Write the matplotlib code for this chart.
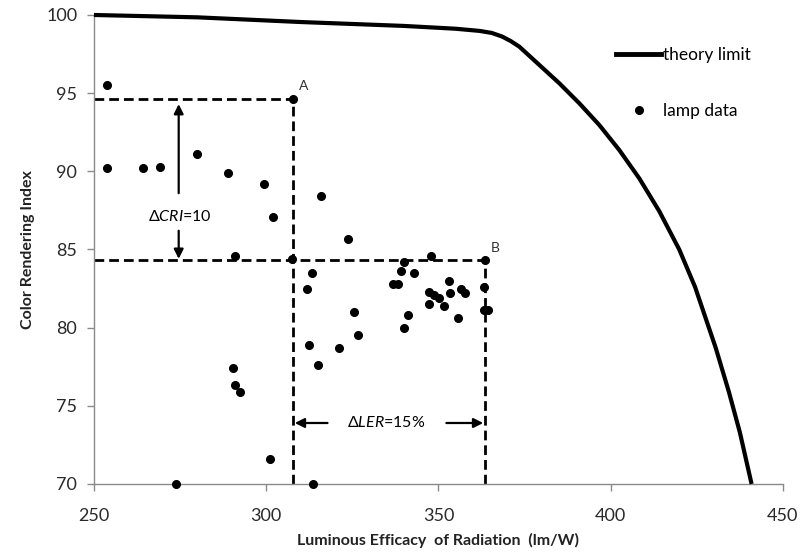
import matplotlib
matplotlib.use("Agg")
import matplotlib.pyplot as plt
from matplotlib.lines import Line2D

plt.rcParams['font.family'] = ['Lato', 'DejaVu Sans']
plt.rcParams['mathtext.fontset'] = 'custom'
plt.rcParams['mathtext.rm'] = 'Lato'
plt.rcParams['mathtext.it'] = 'Lato:italic'
plt.rcParams['mathtext.bf'] = 'Lato:bold'

# theory limit curve
theory_ler = [250, 280, 310, 340, 355, 362, 365.5, 368.5, 371, 373.5, 379.3, 385.1,
              390.9, 396.7, 402.5, 408.3, 414.1, 419.9, 424.5, 430.5, 434.3, 437.5,
              440.9]
theory_cri = [100, 99.85, 99.55, 99.3, 99.12, 98.98, 98.85, 98.62, 98.33, 97.97, 96.8,
              95.63, 94.35, 92.96, 91.36, 89.55, 87.45, 85.0, 82.6, 78.7, 75.9, 73.3,
              70.0]

# lamp data
lamp_ler = [253.9, 253.9, 264.1, 269.2, 279.9, 289.0, 299.4, 302.0, 291.0, 307.8,
            307.6, 290.4, 291.0, 292.3, 301.1, 273.9, 315.9, 323.8, 347.7, 363.5,
            313.2, 311.8, 336.8, 338.2, 339.2, 340.1, 342.9, 353.0, 347.2, 348.8,
            350.3, 347.4, 351.7, 353.4, 356.6, 357.7, 355.8, 363.1, 363.1, 364.5,
            341.1, 340.1, 325.4, 326.6, 312.4, 321.1, 315.1, 313.6]
lamp_cri = [95.5, 90.2, 90.2, 90.3, 91.1, 89.9, 89.2, 87.1, 84.6, 94.6,
            84.4, 77.4, 76.3, 75.9, 71.6, 70.0, 88.4, 85.7, 84.6, 84.3,
            83.5, 82.5, 82.8, 82.8, 83.6, 84.2, 83.5, 83.0, 82.3, 82.1,
            81.9, 81.5, 81.4, 82.2, 82.5, 82.2, 80.6, 82.6, 81.1, 81.1,
            80.8, 80.0, 81.0, 79.5, 78.9, 78.7, 77.6, 70.0]

point_a = (307.8, 94.6)
point_b = (363.5, 84.3)

x_ticks = [250, 300, 350, 400, 450]
y_ticks = [70, 75, 80, 85, 90, 95, 100]

fig = plt.figure(figsize=(8.03, 5.55), dpi=100)
ax = fig.add_axes([0.117, 0.128, 0.858, 0.845])

ax.set_xlim(250, 450)
ax.set_ylim(70, 100)

# dashed guide lines
dash = dict(color='black', lw=2.0, ls=(0, (3.5, 1.8)), zorder=2)
ax.plot([250, point_a[0]], [point_a[1], point_a[1]], **dash)
ax.plot([point_a[0], point_a[0]], [70, point_a[1]], **dash)
ax.plot([250, point_b[0]], [point_b[1], point_b[1]], **dash)
ax.plot([point_b[0], point_b[0]], [70, point_b[1]], **dash)

ax.plot(theory_ler, theory_cri, color='black', lw=3, solid_capstyle='butt',
        solid_joinstyle='round', clip_on=False, zorder=4, label='theory limit')
ax.plot(lamp_ler, lamp_cri, ls='none', marker='o', ms=5.5, color='black',
        clip_on=False, zorder=5, label='lamp data')

# annotations
ax.text(point_a[0] + 1.8, point_a[1] + 0.45, 'A', fontsize=10, color='#333333',
        ha='left', va='bottom')
ax.text(point_b[0] + 1.8, point_b[1] + 0.4, 'B', fontsize=10, color='#333333',
        ha='left', va='bottom')

arr = dict(arrowstyle='-|>', color='black', lw=1.6, mutation_scale=14,
           shrinkA=0, shrinkB=0)
ax.annotate('', xy=(274.6, 94.3), xytext=(274.6, 88.6), arrowprops=arr)
ax.annotate('', xy=(274.6, 84.4), xytext=(274.6, 86.2), arrowprops=arr)
ax.text(274.9, 87.1, r'$\Delta\mathit{CRI}$=10', fontsize=11.5, ha='center', va='center')

ax.annotate('', xy=(308.3, 73.9), xytext=(317.8, 73.9), arrowprops=arr)
ax.annotate('', xy=(363.0, 73.9), xytext=(352.3, 73.9), arrowprops=arr)
ax.text(334.9, 73.9, r'$\Delta\mathit{LER}$=15%', fontsize=11.5, ha='center', va='center')

# axes styling
for s in ['top', 'right']:
    ax.spines[s].set_visible(False)
for s in ['left', 'bottom']:
    ax.spines[s].set_color('#8a8a8a')
    ax.spines[s].set_linewidth(1.0)
ax.set_xticks(x_ticks)
ax.set_yticks(y_ticks)
ax.tick_params(axis='both', colors='#8a8a8a', labelcolor='#2a2a2a',
               labelsize=13, length=5, width=1, direction='out')
ax.tick_params(axis='x', pad=12)
ax.tick_params(axis='y', pad=7)

ax.set_xlabel('Luminous Efficacy  of Radiation  (lm/W)', fontsize=11.5,
              fontweight='bold', color='#222222', labelpad=7)
ax.set_ylabel('Color Rendering Index', fontsize=11.5, fontweight='bold',
              color='#222222', labelpad=8)

handles = [Line2D([], [], color='black', lw=3.5),
           Line2D([], [], ls='none', marker='o', ms=5.5, color='black')]
ax.legend(handles, ['theory limit', 'lamp data'], loc='upper left',
          bbox_to_anchor=(0.735, 0.965), frameon=False, fontsize=12.5,
          handlelength=2.6, handletextpad=0.1, labelspacing=2.3)

fig.savefig('out.png', dpi=100, facecolor='white')
